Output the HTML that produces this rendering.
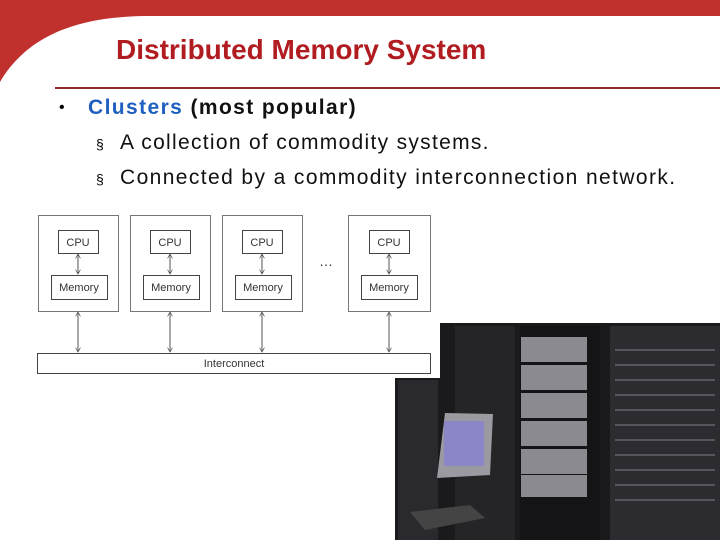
<!DOCTYPE html>
<html><head><style>
body{margin:0;width:720px;height:540px;overflow:hidden;background:#fff;position:relative;font-family:"Liberation Sans",sans-serif}
.a{position:absolute}
.t{position:absolute;font-size:21px;color:#111;white-space:nowrap;letter-spacing:1.3px}
</style></head><body>
<svg class="a" style="left:0;top:0" width="720" height="100">
<path d="M0 0H720V16H150C70 16 25 40 0 82Z" fill="#c0302c"/>
<line x1="55" y1="88" x2="720" y2="88" stroke="#8b2a2a" stroke-width="2"/>
</svg>
<div class="a" style="left:116px;top:34px;font-size:28px;font-weight:bold;color:#b01c20;white-space:nowrap">Distributed Memory System</div>
<div class="a" style="left:59px;top:99px;font-size:16px">•</div>
<div class="t" style="left:88px;top:96px;letter-spacing:1.4px"><b style="color:#1f5fbf">Clusters</b> <b>(most popular)</b></div>
<div class="a" style="left:96px;top:136px;font-size:14px">§</div>
<div class="t" style="left:120px;top:131px">A collection of commodity systems.</div>
<div class="a" style="left:96px;top:171px;font-size:14px">§</div>
<div class="t" style="left:120px;top:166px;letter-spacing:1.4px">Connected by a commodity interconnection network.</div>

<svg class="a" style="left:0;top:0" width="720" height="540">
<defs><marker id="m" viewBox="0 0 10 10" refX="9" refY="5" markerWidth="5" markerHeight="5" orient="auto-start-reverse"><path d="M0 0L9 5L0 10" fill="none" stroke="#555" stroke-width="1.5"/></marker></defs>
<g fill="#fff" stroke="#777">
<rect x="38.5" y="215.5" width="80" height="96"/><rect x="130.5" y="215.5" width="80" height="96"/>
<rect x="222.5" y="215.5" width="80" height="96"/><rect x="348.5" y="215.5" width="82" height="96"/>
<rect x="37.5" y="353.5" width="393" height="20" stroke="#444"/>
</g>
<g stroke="#555" fill="none" marker-start="url(#m)" marker-end="url(#m)">
<line x1="78" y1="254" x2="78" y2="274"/><line x1="170" y1="254" x2="170" y2="274"/>
<line x1="262" y1="254" x2="262" y2="274"/><line x1="389" y1="254" x2="389" y2="274"/>
<line x1="78" y1="312" x2="78" y2="352"/><line x1="170" y1="312" x2="170" y2="352"/>
<line x1="262" y1="312" x2="262" y2="352"/><line x1="389" y1="312" x2="389" y2="352"/>
</g>
<g fill="#fff" stroke="#444">
<rect x="58.5" y="230.5" width="40" height="23"/><rect x="150.5" y="230.5" width="40" height="23"/>
<rect x="242.5" y="230.5" width="40" height="23"/><rect x="369.5" y="230.5" width="40" height="23"/>
<rect x="51.5" y="275.5" width="56" height="24"/><rect x="143.5" y="275.5" width="56" height="24"/>
<rect x="235.5" y="275.5" width="56" height="24"/><rect x="361.5" y="275.5" width="56" height="24"/>
</g>
<g font-family="Liberation Sans" font-size="11" fill="#333" text-anchor="middle">
<text x="78" y="246">CPU</text><text x="170" y="246">CPU</text><text x="262" y="246">CPU</text><text x="389" y="246">CPU</text>
<text x="79" y="291">Memory</text><text x="171" y="291">Memory</text><text x="263" y="291">Memory</text><text x="389" y="291">Memory</text>
<text x="234" y="367">Interconnect</text>
<text x="326" y="266" font-size="14">…</text>
</g>
<path d="M440 323H720V540H395V378H440Z" fill="#1a1a1c"/>
<rect x="398" y="380" width="40" height="160" fill="#2a2a2e"/>
<rect x="455" y="326" width="60" height="214" fill="#252528"/>
<rect x="520" y="326" width="80" height="214" fill="#141416"/>
<rect x="610" y="326" width="110" height="214" fill="#2b2b30"/>
<g fill="#8a8a90">
<rect x="521" y="337" width="66" height="25"/><rect x="521" y="365" width="66" height="25"/>
<rect x="521" y="393" width="66" height="25"/><rect x="521" y="421" width="66" height="25"/>
<rect x="521" y="449" width="66" height="25"/><rect x="521" y="475" width="66" height="22"/>
</g>
<g stroke="#55555c" stroke-width="2">
<line x1="615" y1="350" x2="715" y2="350"/><line x1="615" y1="365" x2="715" y2="365"/><line x1="615" y1="380" x2="715" y2="380"/>
<line x1="615" y1="395" x2="715" y2="395"/><line x1="615" y1="410" x2="715" y2="410"/><line x1="615" y1="425" x2="715" y2="425"/>
<line x1="615" y1="440" x2="715" y2="440"/><line x1="615" y1="455" x2="715" y2="455"/><line x1="615" y1="470" x2="715" y2="470"/>
<line x1="615" y1="485" x2="715" y2="485"/><line x1="615" y1="500" x2="715" y2="500"/>
</g>
<path d="M445 413L493 414L490 475L437 478Z" fill="#9a9aa0"/>
<rect x="444" y="421" width="40" height="45" fill="#8a86c8"/>
<path d="M410 512L470 505L485 518L425 530Z" fill="#444"/>
</svg>
</body></html>
